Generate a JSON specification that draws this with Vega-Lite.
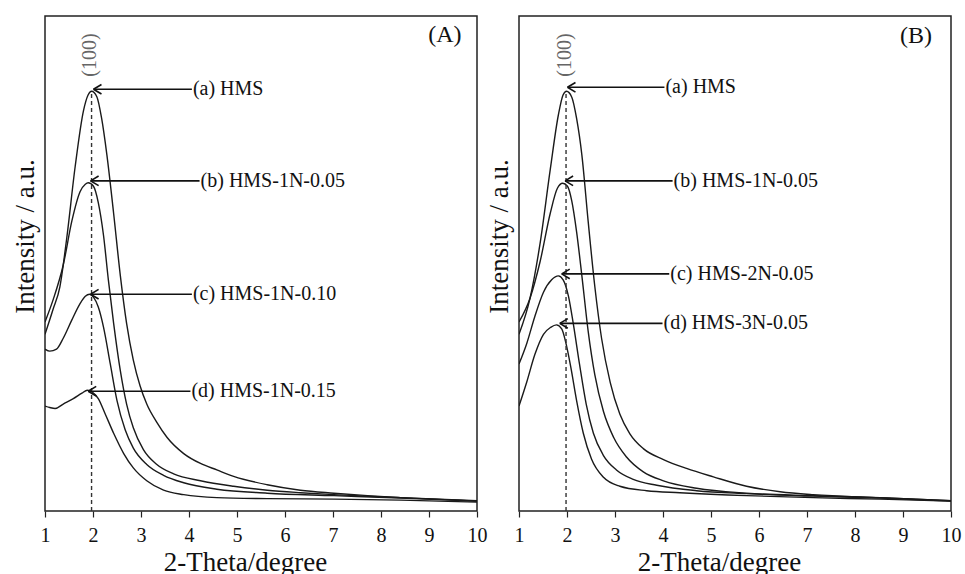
{
  "$schema": "https://vega.github.io/schema/vega-lite/v6.json",
  "padding": {"left": 10, "top": 15, "right": 6, "bottom": 0},
  "spacing": 42,
  "bounds": "flush",
  "config": {
    "font": "Liberation Serif",
    "view": {"stroke": "#222", "strokeWidth": 1.5},
    "axis": {"labelColor": "#111", "titleColor": "#111", "titleFontWeight": "normal", "grid": false, "domain": false}
  },
  "datasets": {
    "curves": [
      {"p":"A","s":"a","x":1.00,"y":35.7},{"p":"A","s":"a","x":1.17,"y":40.8},{"p":"A","s":"a","x":1.31,"y":45.3},{"p":"A","s":"a","x":1.45,"y":54.9},{"p":"A","s":"a","x":1.63,"y":69.7},{"p":"A","s":"a","x":1.80,"y":80.8},{"p":"A","s":"a","x":1.90,"y":84.1},{"p":"A","s":"a","x":1.97,"y":84.8},{"p":"A","s":"a","x":2.08,"y":83.7},{"p":"A","s":"a","x":2.18,"y":79.3},{"p":"A","s":"a","x":2.29,"y":71.9},{"p":"A","s":"a","x":2.43,"y":60.1},{"p":"A","s":"a","x":2.57,"y":47.5},{"p":"A","s":"a","x":2.70,"y":37.9},{"p":"A","s":"a","x":2.84,"y":30.5},{"p":"A","s":"a","x":2.98,"y":25.3},{"p":"A","s":"a","x":3.12,"y":21.6},{"p":"A","s":"a","x":3.33,"y":17.9},{"p":"A","s":"a","x":3.54,"y":14.9},{"p":"A","s":"a","x":3.89,"y":11.6},{"p":"A","s":"a","x":4.24,"y":9.6},{"p":"A","s":"a","x":4.58,"y":8.3},{"p":"A","s":"a","x":4.93,"y":7.0},{"p":"A","s":"a","x":5.63,"y":5.3},{"p":"A","s":"a","x":6.32,"y":4.2},{"p":"A","s":"a","x":7.02,"y":3.6},{"p":"A","s":"a","x":7.72,"y":3.1},{"p":"A","s":"a","x":8.41,"y":2.7},{"p":"A","s":"a","x":9.11,"y":2.4},{"p":"A","s":"a","x":10.0,"y":2.0},
      {"p":"A","s":"b","x":1.00,"y":38.2},{"p":"A","s":"b","x":1.17,"y":42.7},{"p":"A","s":"b","x":1.38,"y":49.7},{"p":"A","s":"b","x":1.56,"y":58.6},{"p":"A","s":"b","x":1.73,"y":64.5},{"p":"A","s":"b","x":1.84,"y":66.0},{"p":"A","s":"b","x":1.90,"y":66.3},{"p":"A","s":"b","x":2.01,"y":65.6},{"p":"A","s":"b","x":2.11,"y":62.3},{"p":"A","s":"b","x":2.22,"y":55.6},{"p":"A","s":"b","x":2.32,"y":46.7},{"p":"A","s":"b","x":2.43,"y":37.9},{"p":"A","s":"b","x":2.57,"y":28.3},{"p":"A","s":"b","x":2.70,"y":21.6},{"p":"A","s":"b","x":2.84,"y":16.8},{"p":"A","s":"b","x":3.05,"y":12.4},{"p":"A","s":"b","x":3.33,"y":9.4},{"p":"A","s":"b","x":3.68,"y":7.5},{"p":"A","s":"b","x":4.24,"y":6.1},{"p":"A","s":"b","x":4.93,"y":5.0},{"p":"A","s":"b","x":5.63,"y":4.2},{"p":"A","s":"b","x":6.32,"y":3.7},{"p":"A","s":"b","x":7.02,"y":3.3},{"p":"A","s":"b","x":8.41,"y":2.7},{"p":"A","s":"b","x":10.0,"y":2.1},
      {"p":"A","s":"c","x":1.00,"y":32.7},{"p":"A","s":"c","x":1.10,"y":32.3},{"p":"A","s":"c","x":1.24,"y":32.7},{"p":"A","s":"c","x":1.38,"y":34.9},{"p":"A","s":"c","x":1.56,"y":38.6},{"p":"A","s":"c","x":1.73,"y":41.9},{"p":"A","s":"c","x":1.84,"y":43.4},{"p":"A","s":"c","x":1.93,"y":43.8},{"p":"A","s":"c","x":2.01,"y":43.2},{"p":"A","s":"c","x":2.11,"y":41.2},{"p":"A","s":"c","x":2.22,"y":37.1},{"p":"A","s":"c","x":2.36,"y":29.7},{"p":"A","s":"c","x":2.50,"y":22.3},{"p":"A","s":"c","x":2.67,"y":16.4},{"p":"A","s":"c","x":2.84,"y":12.7},{"p":"A","s":"c","x":3.12,"y":9.4},{"p":"A","s":"c","x":3.47,"y":7.2},{"p":"A","s":"c","x":3.89,"y":5.7},{"p":"A","s":"c","x":4.58,"y":4.4},{"p":"A","s":"c","x":5.63,"y":3.6},{"p":"A","s":"c","x":7.02,"y":3.1},{"p":"A","s":"c","x":8.41,"y":2.6},{"p":"A","s":"c","x":10.0,"y":2.0},
      {"p":"A","s":"d","x":1.00,"y":21.2},{"p":"A","s":"d","x":1.10,"y":20.9},{"p":"A","s":"d","x":1.21,"y":20.7},{"p":"A","s":"d","x":1.38,"y":21.6},{"p":"A","s":"d","x":1.59,"y":22.7},{"p":"A","s":"d","x":1.77,"y":23.8},{"p":"A","s":"d","x":1.88,"y":24.4},{"p":"A","s":"d","x":1.99,"y":24.0},{"p":"A","s":"d","x":2.11,"y":22.7},{"p":"A","s":"d","x":2.25,"y":19.7},{"p":"A","s":"d","x":2.43,"y":15.7},{"p":"A","s":"d","x":2.64,"y":11.6},{"p":"A","s":"d","x":2.84,"y":8.7},{"p":"A","s":"d","x":3.12,"y":6.1},{"p":"A","s":"d","x":3.47,"y":4.2},{"p":"A","s":"d","x":3.89,"y":3.3},{"p":"A","s":"d","x":4.58,"y":2.7},{"p":"A","s":"d","x":5.63,"y":2.5},{"p":"A","s":"d","x":7.02,"y":2.4},{"p":"A","s":"d","x":8.41,"y":2.2},{"p":"A","s":"d","x":10.0,"y":1.8},
      {"p":"B","s":"a","x":1.00,"y":35.7},{"p":"B","s":"a","x":1.23,"y":43.0},{"p":"B","s":"a","x":1.44,"y":54.1},{"p":"B","s":"a","x":1.65,"y":68.9},{"p":"B","s":"a","x":1.82,"y":80.0},{"p":"B","s":"a","x":1.92,"y":84.1},{"p":"B","s":"a","x":1.99,"y":84.8},{"p":"B","s":"a","x":2.10,"y":83.6},{"p":"B","s":"a","x":2.20,"y":79.3},{"p":"B","s":"a","x":2.31,"y":71.9},{"p":"B","s":"a","x":2.44,"y":58.6},{"p":"B","s":"a","x":2.58,"y":45.3},{"p":"B","s":"a","x":2.72,"y":34.9},{"p":"B","s":"a","x":2.90,"y":26.0},{"p":"B","s":"a","x":3.10,"y":19.6},{"p":"B","s":"a","x":3.31,"y":15.6},{"p":"B","s":"a","x":3.59,"y":12.6},{"p":"B","s":"a","x":4.01,"y":10.4},{"p":"B","s":"a","x":4.49,"y":8.6},{"p":"B","s":"a","x":5.05,"y":6.9},{"p":"B","s":"a","x":5.74,"y":5.0},{"p":"B","s":"a","x":6.44,"y":3.9},{"p":"B","s":"a","x":7.13,"y":3.3},{"p":"B","s":"a","x":8.52,"y":2.7},{"p":"B","s":"a","x":10.0,"y":2.1},
      {"p":"B","s":"b","x":1.00,"y":38.2},{"p":"B","s":"b","x":1.23,"y":43.0},{"p":"B","s":"b","x":1.44,"y":50.4},{"p":"B","s":"b","x":1.65,"y":60.1},{"p":"B","s":"b","x":1.80,"y":65.2},{"p":"B","s":"b","x":1.91,"y":66.2},{"p":"B","s":"b","x":2.01,"y":65.6},{"p":"B","s":"b","x":2.10,"y":62.6},{"p":"B","s":"b","x":2.20,"y":56.4},{"p":"B","s":"b","x":2.31,"y":47.5},{"p":"B","s":"b","x":2.44,"y":36.4},{"p":"B","s":"b","x":2.58,"y":27.5},{"p":"B","s":"b","x":2.76,"y":20.1},{"p":"B","s":"b","x":2.97,"y":14.9},{"p":"B","s":"b","x":3.24,"y":10.9},{"p":"B","s":"b","x":3.59,"y":7.9},{"p":"B","s":"b","x":4.01,"y":6.1},{"p":"B","s":"b","x":4.70,"y":4.6},{"p":"B","s":"b","x":5.74,"y":3.6},{"p":"B","s":"b","x":7.13,"y":3.1},{"p":"B","s":"b","x":8.52,"y":2.7},{"p":"B","s":"b","x":10.0,"y":2.1},
      {"p":"B","s":"c","x":1.00,"y":29.7},{"p":"B","s":"c","x":1.16,"y":33.8},{"p":"B","s":"c","x":1.33,"y":39.3},{"p":"B","s":"c","x":1.51,"y":44.2},{"p":"B","s":"c","x":1.68,"y":46.7},{"p":"B","s":"c","x":1.82,"y":47.5},{"p":"B","s":"c","x":1.92,"y":46.7},{"p":"B","s":"c","x":2.03,"y":43.4},{"p":"B","s":"c","x":2.13,"y":37.9},{"p":"B","s":"c","x":2.26,"y":29.7},{"p":"B","s":"c","x":2.40,"y":21.6},{"p":"B","s":"c","x":2.55,"y":15.7},{"p":"B","s":"c","x":2.76,"y":11.2},{"p":"B","s":"c","x":3.03,"y":8.3},{"p":"B","s":"c","x":3.38,"y":6.4},{"p":"B","s":"c","x":3.87,"y":5.2},{"p":"B","s":"c","x":4.70,"y":4.1},{"p":"B","s":"c","x":5.74,"y":3.5},{"p":"B","s":"c","x":7.13,"y":3.0},{"p":"B","s":"c","x":8.52,"y":2.6},{"p":"B","s":"c","x":10.0,"y":2.0},
      {"p":"B","s":"d","x":1.00,"y":21.2},{"p":"B","s":"d","x":1.16,"y":26.0},{"p":"B","s":"d","x":1.33,"y":31.6},{"p":"B","s":"d","x":1.51,"y":35.7},{"p":"B","s":"d","x":1.66,"y":37.1},{"p":"B","s":"d","x":1.78,"y":37.6},{"p":"B","s":"d","x":1.89,"y":36.8},{"p":"B","s":"d","x":1.98,"y":33.8},{"p":"B","s":"d","x":2.08,"y":29.0},{"p":"B","s":"d","x":2.20,"y":22.3},{"p":"B","s":"d","x":2.34,"y":15.7},{"p":"B","s":"d","x":2.51,"y":10.5},{"p":"B","s":"d","x":2.76,"y":6.8},{"p":"B","s":"d","x":3.10,"y":5.0},{"p":"B","s":"d","x":3.66,"y":4.1},{"p":"B","s":"d","x":4.35,"y":3.7},{"p":"B","s":"d","x":5.74,"y":3.1},{"p":"B","s":"d","x":7.13,"y":2.7},{"p":"B","s":"d","x":8.52,"y":2.4},{"p":"B","s":"d","x":10.0,"y":2.0}
    ],
    "notes": [
      {"p":"A","label":"(a) HMS","x0":4.06,"x1":2.01,"y":85.2},
      {"p":"A","label":"(b) HMS-1N-0.05","x0":4.22,"x1":1.95,"y":66.7},
      {"p":"A","label":"(c) HMS-1N-0.10","x0":4.06,"x1":1.95,"y":43.8},
      {"p":"A","label":"(d) HMS-1N-0.15","x0":4.03,"x1":1.90,"y":24.2},
      {"p":"B","label":"(a) HMS","x0":4.03,"x1":2.01,"y":85.6},
      {"p":"B","label":"(b) HMS-1N-0.05","x0":4.20,"x1":1.96,"y":66.7},
      {"p":"B","label":"(c) HMS-2N-0.05","x0":4.13,"x1":1.89,"y":47.9},
      {"p":"B","label":"(d) HMS-3N-0.05","x0":3.99,"x1":1.85,"y":37.9}
    ],
    "dash": [
      {"p":"A","x":1.97,"y1":0,"y2":84.5,"tx":1.94,"ty":92.1,"text":"(100)"},
      {"p":"B","x":1.98,"y1":0,"y2":84.5,"tx":1.95,"ty":92.1,"text":"(100)"}
    ],
    "tags": [
      {"p":"A","x":9.33,"y":96.2,"text":"(A)"},
      {"p":"B","x":9.27,"y":96.0,"text":"(B)"}
    ]
  },
  "hconcat": [
    {
      "width": 432, "height": 495,
      "layer": [
        {"data":{"name":"curves"},"transform":[{"filter":"datum.p==='A'"}],
         "mark":{"type":"line","color":"#1a1a1a","strokeWidth":1.4,"interpolate":"monotone","clip":true},
         "encoding":{
           "x":{"field":"x","type":"quantitative","scale":{"domain":[1,10],"nice":false,"zero":false},
                "axis":{"title":"2-Theta/degree","values":[1,2,3,4,5,6,7,8,9,10],"format":"d","ticks":true,"tickSize":6,"tickColor":"#222","tickWidth":1.2,"labelFontSize":20,"labelPadding":8,"titleFontSize":27,"titlePadding":4,"titleX":200,"labelFlush":false}},
           "y":{"field":"y","type":"quantitative","scale":{"domain":[0,100],"nice":false,"zero":false},
                "axis":{"title":"Intensity / a.u.","labels":false,"ticks":false,"titleFontSize":27,"titlePadding":6,"titleY":220}},
           "detail":{"field":"s"}}},
        {"data":{"name":"dash"},"transform":[{"filter":"datum.p==='A'"}],
         "mark":{"type":"rule","strokeDash":[4,3],"color":"#333","strokeWidth":1.4},
         "encoding":{"x":{"field":"x","type":"quantitative"},"y":{"field":"y1","type":"quantitative"},"y2":{"field":"y2"}}},
        {"data":{"name":"dash"},"transform":[{"filter":"datum.p==='A'"}],
         "mark":{"type":"text","angle":270,"align":"center","baseline":"middle","fontSize":20,"color":"#666"},
         "encoding":{"x":{"field":"tx","type":"quantitative"},"y":{"field":"ty","type":"quantitative"},"text":{"field":"text"}}},
        {"data":{"name":"notes"},"transform":[{"filter":"datum.p==='A'"}],
         "mark":{"type":"rule","color":"#111","strokeWidth":1.6},
         "encoding":{"x":{"field":"x0","type":"quantitative"},"x2":{"field":"x1"},"y":{"field":"y","type":"quantitative"}}},
        {"data":{"name":"notes"},"transform":[{"filter":"datum.p==='A'"}],
         "mark":{"type":"point","shape":"M0,0L2,-1.2M0,0L2,1.2","filled":false,"size":64,"opacity":1,"color":"#111","strokeWidth":1.6},
         "encoding":{"x":{"field":"x1","type":"quantitative"},"y":{"field":"y","type":"quantitative"}}},
        {"data":{"name":"notes"},"transform":[{"filter":"datum.p==='A'"}],
         "mark":{"type":"text","align":"left","baseline":"middle","fontSize":20,"color":"#111","dx":1},
         "encoding":{"x":{"field":"x0","type":"quantitative"},"y":{"field":"y","type":"quantitative"},"text":{"field":"label"}}},
        {"data":{"name":"tags"},"transform":[{"filter":"datum.p==='A'"}],
         "mark":{"type":"text","align":"center","baseline":"middle","fontSize":24,"color":"#111"},
         "encoding":{"x":{"field":"x","type":"quantitative"},"y":{"field":"y","type":"quantitative"},"text":{"field":"text"}}}
      ]
    },
    {
      "width": 432, "height": 495,
      "layer": [
        {"data":{"name":"curves"},"transform":[{"filter":"datum.p==='B'"}],
         "mark":{"type":"line","color":"#1a1a1a","strokeWidth":1.4,"interpolate":"monotone","clip":true},
         "encoding":{
           "x":{"field":"x","type":"quantitative","scale":{"domain":[1,10],"nice":false,"zero":false},
                "axis":{"title":"2-Theta/degree","values":[1,2,3,4,5,6,7,8,9,10],"format":"d","ticks":true,"tickSize":6,"tickColor":"#222","tickWidth":1.2,"labelFontSize":20,"labelPadding":8,"titleFontSize":27,"titlePadding":4,"titleX":200,"labelFlush":false}},
           "y":{"field":"y","type":"quantitative","scale":{"domain":[0,100],"nice":false,"zero":false},
                "axis":{"title":"Intensity / a.u.","labels":false,"ticks":false,"titleFontSize":27,"titlePadding":6,"titleY":220}},
           "detail":{"field":"s"}}},
        {"data":{"name":"dash"},"transform":[{"filter":"datum.p==='B'"}],
         "mark":{"type":"rule","strokeDash":[4,3],"color":"#333","strokeWidth":1.4},
         "encoding":{"x":{"field":"x","type":"quantitative"},"y":{"field":"y1","type":"quantitative"},"y2":{"field":"y2"}}},
        {"data":{"name":"dash"},"transform":[{"filter":"datum.p==='B'"}],
         "mark":{"type":"text","angle":270,"align":"center","baseline":"middle","fontSize":20,"color":"#666"},
         "encoding":{"x":{"field":"tx","type":"quantitative"},"y":{"field":"ty","type":"quantitative"},"text":{"field":"text"}}},
        {"data":{"name":"notes"},"transform":[{"filter":"datum.p==='B'"}],
         "mark":{"type":"rule","color":"#111","strokeWidth":1.6},
         "encoding":{"x":{"field":"x0","type":"quantitative"},"x2":{"field":"x1"},"y":{"field":"y","type":"quantitative"}}},
        {"data":{"name":"notes"},"transform":[{"filter":"datum.p==='B'"}],
         "mark":{"type":"point","shape":"M0,0L2,-1.2M0,0L2,1.2","filled":false,"size":64,"opacity":1,"color":"#111","strokeWidth":1.6},
         "encoding":{"x":{"field":"x1","type":"quantitative"},"y":{"field":"y","type":"quantitative"}}},
        {"data":{"name":"notes"},"transform":[{"filter":"datum.p==='B'"}],
         "mark":{"type":"text","align":"left","baseline":"middle","fontSize":20,"color":"#111","dx":1},
         "encoding":{"x":{"field":"x0","type":"quantitative"},"y":{"field":"y","type":"quantitative"},"text":{"field":"label"}}},
        {"data":{"name":"tags"},"transform":[{"filter":"datum.p==='B'"}],
         "mark":{"type":"text","align":"center","baseline":"middle","fontSize":24,"color":"#111"},
         "encoding":{"x":{"field":"x","type":"quantitative"},"y":{"field":"y","type":"quantitative"},"text":{"field":"text"}}}
      ]
    }
  ]
}
